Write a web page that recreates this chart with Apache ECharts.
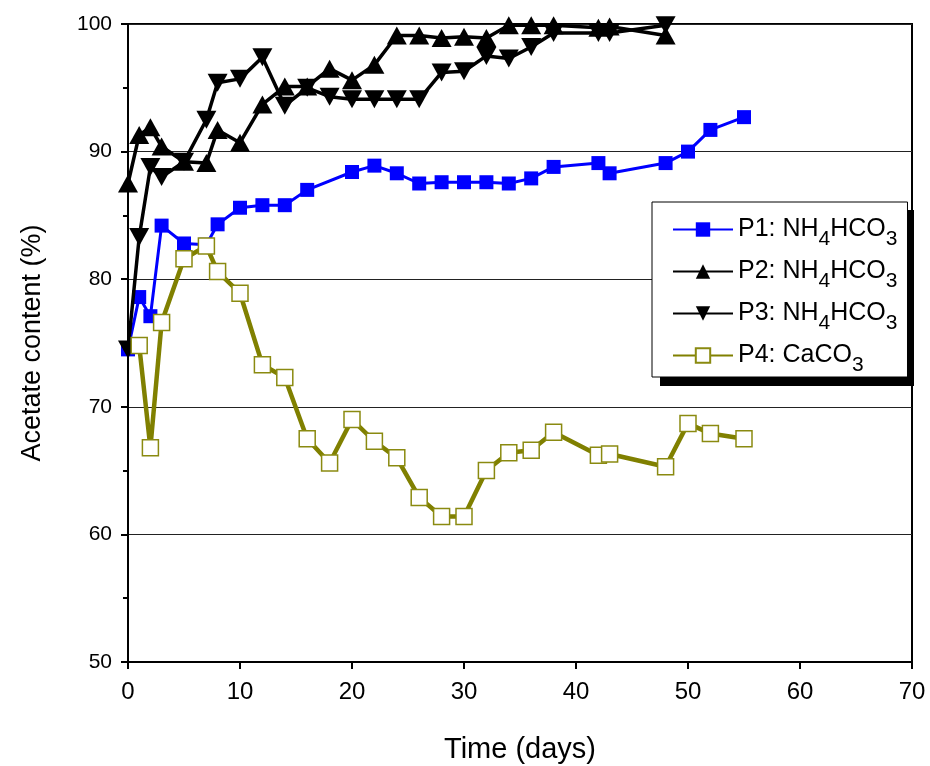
<!DOCTYPE html>
<html><head><meta charset="utf-8">
<script src="https://cdn.jsdelivr.net/npm/echarts@6/dist/echarts.min.js"></script>
<style>html,body{margin:0;padding:0;background:#fff}#c{width:930px;height:766px}</style>
</head><body><div id="c"></div>
<script>
const p1Days = [0,1,2,3,5,7,8,10,12,14,16,20,22,24,26,28,30,32,34,36,38,42,43,48,50,52,55];
const p1Vals = [74.5,78.6,77.1,84.2,82.8,82.7,84.3,85.6,85.8,85.8,87.0,88.4,88.9,88.3,87.5,87.6,87.6,87.6,87.5,87.9,88.8,89.1,88.3,89.1,90.0,91.7,92.7];
const p2Days = [0,1,2,3,5,7,8,10,12,14,16,18,20,22,24,26,28,30,32,34,36,38,42,43,48];
const p2Vals = [87.5,91.3,91.9,90.4,89.2,89.1,91.7,90.7,93.7,95.1,95.1,96.5,95.6,96.8,99.1,99.1,98.9,99.0,98.9,99.9,99.9,99.9,99.7,99.8,99.1];
const p3Days = [0,1,2,3,5,7,8,10,12,14,16,18,20,22,24,26,28,30,32,34,36,38,42,43,48];
const p3Vals = [74.5,83.3,88.8,88.0,89.2,92.5,95.4,95.7,97.4,93.6,95.0,94.3,94.1,94.1,94.1,94.1,96.2,96.3,97.5,97.3,98.2,99.3,99.3,99.3,99.9];
const p4Days = [1,2,3,5,7,8,10,12,14,16,18,20,22,24,26,28,30,32,34,36,38,42,43,48,50,52,55];
const p4Vals = [74.8,66.8,76.6,81.6,82.6,80.6,78.9,73.3,72.3,67.5,65.6,69.0,67.3,66.0,62.9,61.4,61.4,65.0,66.4,66.6,68.0,66.2,66.3,65.3,68.7,67.9,67.5];
const xTicks = {min:0, max:70, interval:10};
const yTicks = {min:50, max:100, interval:10};
const names = ['P1: NH4HCO3','P2: NH4HCO3','P3: NH4HCO3','P4: CaCO3'];
const legendRich = {
  'P1: NH4HCO3':'{n|P1: NH}{s|4}{n|HCO}{s|3}',
  'P2: NH4HCO3':'{n|P2: NH}{s|4}{n|HCO}{s|3}',
  'P3: NH4HCO3':'{n|P3: NH}{s|4}{n|HCO}{s|3}',
  'P4: CaCO3':'{n|P4: CaCO}{s|3}'
};
const zip = (a,b)=>a.map((d,i)=>[d,b[i]]);
const chart = echarts.init(document.getElementById('c'));
const font = 'Liberation Sans, Arial, sans-serif';
const narrow = 'Liberation Sans Narrow, Liberation Sans, Arial, sans-serif';
chart.setOption({
  animation:false,
  graphic:[{type:'rect',left:660,top:210,z:1,shape:{width:254,height:176},style:{fill:'#000'}}],
  grid:{left:128,right:18,top:24,bottom:104,outerBoundsMode:'none',containLabel:false,show:true,borderColor:'#000',borderWidth:2,backgroundColor:'transparent'},
  xAxis:{type:'value',min:xTicks.min,max:xTicks.max,interval:xTicks.interval,
    name:'Time (days)',nameLocation:'middle',nameGap:73,
    nameTextStyle:{fontFamily:narrow,fontSize:29,color:'#000'},
    axisLine:{show:true,lineStyle:{color:'#000',width:2}},
    axisTick:{show:true,inside:false,length:7,lineStyle:{color:'#000',width:2}},
    axisLabel:{fontFamily:narrow,fontSize:24,color:'#000',margin:18},
    splitLine:{show:false}},
  yAxis:{type:'value',min:yTicks.min,max:yTicks.max,interval:yTicks.interval,
    name:'Acetate content (%)',nameLocation:'middle',nameGap:82,
    nameTextStyle:{fontFamily:narrow,fontSize:27,color:'#000'},
    axisLine:{show:true,lineStyle:{color:'#000',width:2}},
    axisTick:{show:true,inside:false,length:7,lineStyle:{color:'#000',width:2}},
    minorTick:{show:true,splitNumber:2,length:5,lineStyle:{color:'#000',width:2}},
    axisLabel:{fontFamily:font,fontSize:21,color:'#000',margin:16},
    splitLine:{show:true,lineStyle:{color:'#222',width:1}}},
  legend:{
    data:names,orient:'vertical',left:652,top:202,z:10,
    padding:[7,10,1,20],itemGap:1,itemWidth:60,itemHeight:18,
    backgroundColor:'#fff',borderColor:'#000',borderWidth:1,
    formatter:n=>legendRich[n],
    textStyle:{fontFamily:font,color:'#000',fontSize:25,lineHeight:41,
      rich:{n:{fontFamily:font,fontSize:25,lineHeight:41,color:'#000'},
            s:{fontFamily:font,fontSize:21,lineHeight:13,verticalAlign:'bottom',color:'#000'}}}
  },
  series:[
    {name:names[0],type:'line',data:zip(p1Days,p1Vals),symbol:'rect',symbolSize:14,
      lineStyle:{color:'#0000ff',width:3},itemStyle:{color:'#0000ff'},z:3},
    {name:names[1],type:'line',data:zip(p2Days,p2Vals),symbol:'triangle',symbolSize:[20,18],
      lineStyle:{color:'#000',width:3.5},itemStyle:{color:'#000'},z:4},
    {name:names[2],type:'line',data:zip(p3Days,p3Vals),symbol:'triangle',symbolRotate:180,symbolSize:[20,18],
      lineStyle:{color:'#000',width:3.5},itemStyle:{color:'#000'},z:4},
    {name:names[3],type:'line',data:zip(p4Days,p4Vals),symbol:'rect',symbolSize:16,
      lineStyle:{color:'#808000',width:4.5},itemStyle:{color:'#fff',borderColor:'#8a8a10',borderWidth:1.5},z:5}
  ]
});
</script></body></html>
